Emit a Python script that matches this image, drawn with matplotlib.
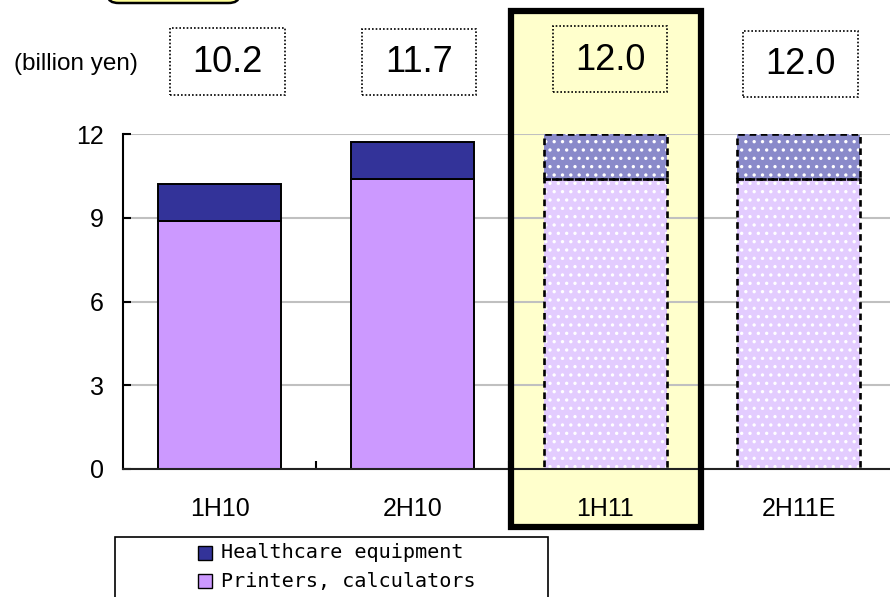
import matplotlib
matplotlib.use("Agg")
import matplotlib.pyplot as plt
from matplotlib.patches import Rectangle, FancyBboxPatch

# ---- data ----
categories = ["1H10", "2H10", "1H11", "2H11E"]
printers = [8.9, 10.4, 10.4, 10.4]
healthcare = [1.3, 1.3, 1.6, 1.6]
total_labels = ["10.2", "11.7", "12.0", "12.0"]
estimated = [False, False, True, True]
yticks = [0, 3, 6, 9, 12]
series_names = ["Healthcare equipment", "Printers, calculators"]

plt.rcParams["font.family"] = ["Liberation Sans", "DejaVu Sans"]
plt.rcParams["hatch.linewidth"] = 1.2

W, H = 890, 597
fig = plt.figure(figsize=(W / 100, H / 100), dpi=100)

def fx(px):
    return px / W

def fy(py):
    return 1 - py / H

# axes placement (pixels)
ax_left, ax_bottom_px, ax_top_px = 123, 469, 134
ax_width_px = 772
ax = fig.add_axes([fx(ax_left), fy(ax_bottom_px), ax_width_px / W,
                   (ax_bottom_px - ax_top_px) / H])
ax.set_facecolor("none")

# highlight background (behind axes)
hl_x0, hl_y0, hl_x1, hl_y1 = 511, 11, 701, 527
fig.patches.append(Rectangle((fx(hl_x0), fy(hl_y1)), fx(hl_x1) - fx(hl_x0),
                             fy(hl_y0) - fy(hl_y1), transform=fig.transFigure,
                             facecolor="#FFFFCC", edgecolor="none", zorder=-5))

c_health = "#333399"
c_print = "#CC99FF"
c_health_est = "#8A8ACA"
c_print_est = "#E3CCFF"

x = list(range(len(categories)))
bw = 0.635
for i in x:
    if not estimated[i]:
        ax.bar(i, printers[i], bw, color=c_print, edgecolor="black", lw=1.4, zorder=3)
        ax.bar(i, healthcare[i], bw, bottom=printers[i], color=c_health,
               edgecolor="black", lw=1.4, zorder=3)
    else:
        ax.bar(i, printers[i], bw, color=c_print_est, edgecolor="white",
               hatch="..", lw=0, zorder=3)
        ax.bar(i, healthcare[i], bw, bottom=printers[i], color=c_health_est,
               edgecolor="white", hatch="..", lw=0, zorder=3)
        ax.bar(i, printers[i], bw, fill=False, edgecolor="black", lw=1.9,
               linestyle=(0, (2.5, 1.8)), zorder=4)
        ax.bar(i, healthcare[i], bw, bottom=printers[i], fill=False,
               edgecolor="black", lw=1.9, linestyle=(0, (2.5, 1.8)), zorder=4)

ax.set_xlim(-0.5, len(categories) - 0.5)
ax.set_ylim(0, 12)
ax.set_yticks(yticks)
ax.yaxis.grid(True, color="#C0C0C0", lw=1.5, zorder=1)
ax.set_axisbelow(False)
for s in ["top", "right"]:
    ax.spines[s].set_visible(False)
ax.spines["left"].set_color("black")
ax.spines["left"].set_linewidth(1.5)
ax.spines["bottom"].set_color("#222222")
ax.spines["bottom"].set_linewidth(1.5)
ax.spines["left"].set_zorder(5)
ax.spines["bottom"].set_zorder(5)

ax.tick_params(axis="y", direction="in", length=6, width=1.5, labelsize=18,
               pad=14)
ax.set_xticks(x)
ax.set_xticklabels(categories)
ax.tick_params(axis="x", which="major", length=0, labelsize=18, pad=20)
ax.set_xticks([0.5, 1.5, 2.5], minor=True)
ax.tick_params(axis="x", which="minor", direction="in", length=6, width=1.5)

# highlight border (on top)
fig.patches.append(Rectangle((fx(hl_x0), fy(hl_y1)), fx(hl_x1) - fx(hl_x0),
                             fy(hl_y0) - fy(hl_y1), transform=fig.transFigure,
                             facecolor="none", edgecolor="black", lw=4.5, zorder=10))

# value boxes
boxes = [(170, 28, 285, 95), (362, 29, 476, 95), (553, 26, 667, 92), (743, 31, 858, 97)]
for (bx0, by0, bx1, by1), lab in zip(boxes, total_labels):
    fig.patches.append(Rectangle((fx(bx0), fy(by1)), fx(bx1) - fx(bx0),
                                 fy(by0) - fy(by1), transform=fig.transFigure,
                                 facecolor="none", edgecolor="black", lw=1.2,
                                 linestyle=(0, (1, 1.2)), zorder=6))
    fig.text(fx((bx0 + bx1) / 2), fy((by0 + by1) / 2 + 1), lab, ha="center",
             va="center", fontsize=26, zorder=7)

fig.text(fx(14), fy(64), "(billion yen)", ha="left", va="center", fontsize=17.5)

# top rounded box (partially off figure)
fig.patches.append(FancyBboxPatch((fx(108), fy(3)), fx(239) - fx(108), 0.08,
                                  boxstyle="round,pad=0,rounding_size=0.012",
                                  transform=fig.transFigure, facecolor="#FFFF99",
                                  edgecolor="black", lw=1.8, zorder=6))

# legend (manual box)
lg_x0, lg_y0, lg_x1 = 115, 537, 548
fig.patches.append(Rectangle((fx(lg_x0), fy(620)), fx(lg_x1) - fx(lg_x0),
                             fy(lg_y0) - fy(620), transform=fig.transFigure,
                             facecolor="white", edgecolor="black", lw=1.2, zorder=6))
rows = [(series_names[0], c_health, 553), (series_names[1], c_print, 581)]
for name, col, cy in rows:
    fig.patches.append(Rectangle((fx(198), fy(cy + 7)), fx(212) - fx(198),
                                 fy(cy - 7) - fy(cy + 7), transform=fig.transFigure,
                                 facecolor=col, edgecolor="black", lw=1.0, zorder=7))
    fig.text(fx(221), fy(cy), name, ha="left", va="center", fontsize=14.5,
             family=["DejaVu Sans Mono"], zorder=7)

fig.savefig("out.png", dpi=100)
